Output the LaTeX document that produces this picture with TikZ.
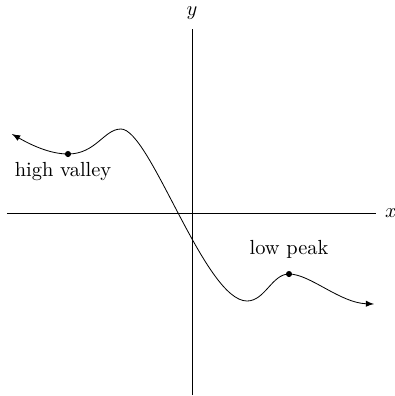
\documentclass[tikz,border=0pt]{standalone}
\usetikzlibrary{positioning}
\begin{document}
\begin{tikzpicture}[x=0.49pt, y=0.49pt, >=latex,
    dot/.style={circle,fill,inner sep=0pt,minimum size=3pt}]
    \useasboundingbox (0,0) rectangle (395,-396);
    % axes
    \coordinate (xl) at (7,-213); \coordinate (xr) at (376,-213);
    \coordinate (yb) at (192,-395); \coordinate (yt) at (192,-29);
    \draw (xl) -- (xr) node[right=1pt] (xlab) {$x$};
    \draw (yb) -- (yt) node[above=1pt] (ylab) {$y$};

    % curve
    \coordinate (start) at (12,-134);
    \node[dot] (hv) at (68,-154) {};
    \coordinate (top) at (121,-129);
    \coordinate (bot) at (247,-301);
    \node[dot] (lp) at (289,-274) {};
    \coordinate (end) at (374,-304);
    \draw[<->] (start) .. controls (31,-145) and (50,-154) .. (hv.center)
        .. controls (96,-154) and (104,-129) .. (top)
        .. controls (150,-129) and (205,-301) .. (bot)
        .. controls (265,-301) and (272,-274) .. (lp.center)
        .. controls (310,-274) and (340,-303) .. (end);

    \node (hvlab) at (63,-172) {high valley};
    \node (lplab) at (289,-249) {low peak};
\end{tikzpicture}
\end{document}
